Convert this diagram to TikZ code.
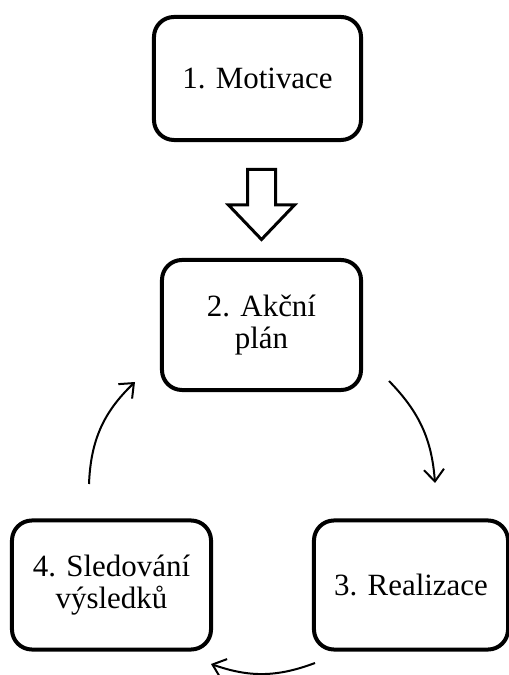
\documentclass[tikz,border=0pt]{standalone}
\usepackage{fontspec}
\setmainfont{Liberation Serif}
\usetikzlibrary{arrows.meta}

\begin{document}
\begin{tikzpicture}[
        % 全局設定:1 單位 = 參考圖 1 像素
        x=0.025cm, y=0.025cm,
        % 步驟方框樣式:粗黑框,圓角
        stage_box/.style={
            draw=black,
            fill=white,
            line width=0.1cm,
            rounded corners=0.5cm,
            align=center,
            inner sep=0pt,
            font=\fontsize{22}{23}\selectfont
        },
        % 循環箭頭樣式:細線
        cycle_arrow/.style={
            draw=black,
            line width=0.05cm,
            -{Straight Barb[length=0.3cm,width=0.5cm]}
        },
        % 空心大箭頭樣式
        block_arrow/.style={
            draw=black,
            fill=white,
            line width=0.075cm,
            line join=miter
        }
    ]
        % 固定邊界
        \useasboundingbox (0,0) rectangle (508,675);

        % ==========================
        % 1. 方框
        % ==========================
        \node[stage_box, minimum width=5.175cm, minimum height=3.075cm] (motivace) at (257.5,596.5) {1. Motivace};
        \node[stage_box, minimum width=4.975cm, minimum height=3.25cm] (plan) at (261.5,350) {2. Akční\\plán};
        \node[stage_box, minimum width=4.85cm, minimum height=3.225cm] (realizace) at (411,90) {3. Realizace};
        \node[stage_box, minimum width=4.975cm, minimum height=3.225cm] (sledovani) at (111.5,90) {4. Sledování\\výsledků};

        % ==========================
        % 2. 空心大箭頭 (1 -> 2)
        % ==========================
        \draw[block_arrow] (247.5,505.5) -- (275.5,505.5) -- (275.5,470) -- (294.5,470)
            -- (261.5,435.5) -- (228.5,470) -- (247.5,470) -- cycle;

        % ==========================
        % 3. 循環箭頭 (2 -> 3 -> 4 -> 2)
        % ==========================
        \coordinate (c1) at (389,294);
        \coordinate (c2) at (435,192);
        \coordinate (c3) at (315,12);
        \coordinate (c4) at (211,11);
        \coordinate (c5) at (89,191);
        \coordinate (c6) at (135,293);

        \draw[cycle_arrow] (c1) to[bend left=20] (c2);
        \draw[cycle_arrow] (c3) to[bend left=20] (c4);
        \draw[cycle_arrow] (c5) to[bend left=22] (c6);
\end{tikzpicture}
\end{document}
